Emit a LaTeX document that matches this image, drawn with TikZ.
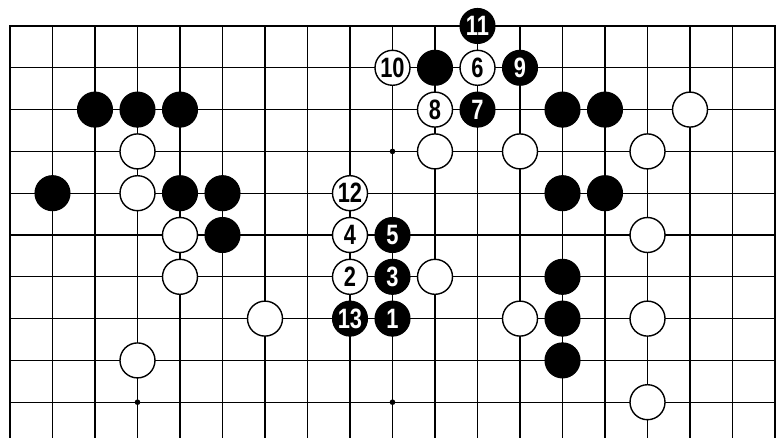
\documentclass[tikz,border=0pt]{standalone}
\usepackage{fontspec}
\newfontfamily\stonefont[FakeStretch=0.78]{Liberation Sans}
\begin{document}
\begin{tikzpicture}[x=21.25pt,y=-20.9pt,line width=0.55pt,
  stone/.style={circle,minimum size=17.5pt,inner sep=0pt,font=\stonefont\bfseries\fontsize{14}{14}\selectfont},
  bst/.style={stone,fill=black,draw=black,text=white},
  wst/.style={stone,fill=white,draw=black,line width=0.7pt}]
\useasboundingbox (-0.235,-0.622) rectangle (18.047,9.856);
% board lines
\foreach \c in {1,...,17} \draw (\c,0) -- (\c,9.856);
\foreach \r in {1,...,9} \draw (0,\r) -- (18,\r);
\draw[line width=1.4pt] (0,9.856) -- (0,0) -- (18,0) -- (18,9.856);
\foreach \c/\r in {3/9,9/3,9/9} \fill (\c,\r) circle[radius=1.4pt];
% stones already on the board
\foreach \c/\r in {2/2,3/2,4/2,1/4,4/4,5/4,5/5,10/1,13/2,14/2,13/4,14/4,13/6,13/7,13/8}
  \node[bst] (b\c-\r) at (\c,\r) {};
\foreach \c/\r in {3/3,3/4,4/5,4/6,3/8,6/7,10/3,12/3,15/3,16/2,10/6,12/7,15/5,15/7,15/9}
  \node[wst] (w\c-\r) at (\c,\r) {};
% numbered moves
\node[bst] (m1) at (9,7) {1};
\node[wst] (m2) at (8,6) {2};
\node[bst] (m3) at (9,6) {3};
\node[wst] (m4) at (8,5) {4};
\node[bst] (m5) at (9,5) {5};
\node[wst] (m6) at (11,1) {6};
\node[bst] (m7) at (11,2) {7};
\node[wst] (m8) at (10,2) {8};
\node[bst] (m9) at (12,1) {9};
\node[wst] (m10) at (9,1) {10};
\node[bst] (m11) at (11,0) {11};
\node[wst] (m12) at (8,4) {12};
\node[bst] (m13) at (8,7) {13};
\end{tikzpicture}
\end{document}
